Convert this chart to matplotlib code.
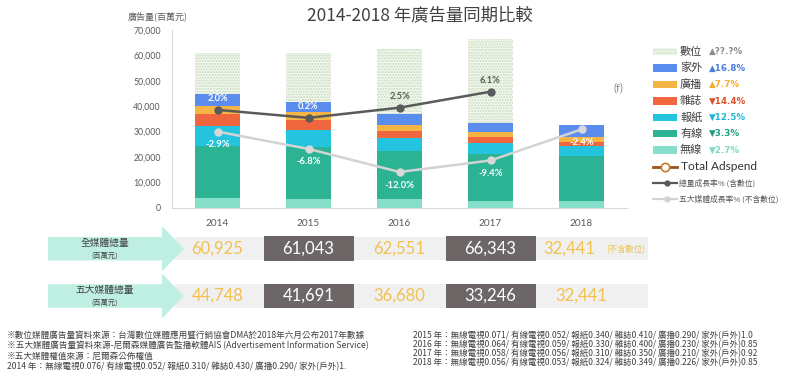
import matplotlib
matplotlib.use('Agg')
import matplotlib.pyplot as plt
from matplotlib.patches import Rectangle, Polygon
from matplotlib.lines import Line2D
import numpy as np

plt.rcParams['font.family'] = ['Noto Sans CJK TC', 'DejaVu Sans']

# ---------------- data ----------------
years = ['2014', '2015', '2016', '2017', '2018']
media_names = ['無線', '有線', '報紙', '雜誌', '廣播', '家外']
wireless = [3630, 3350, 3230, 2700, 2680]
cable = [20740, 20620, 19170, 18400, 17620]
newspaper = [7890, 6470, 4890, 4200, 3950]
magazine = [4740, 4060, 2880, 2380, 1700]
radio = [3020, 3160, 2360, 1970, 1970]
outdoor = [4728, 4031, 4150, 3596, 4521]
all_media_total = [60925, 61043, 62551, 66343, 32441]
five_media_total = [44748, 41691, 36680, 33246, 32441]
growth_all = [2.0, 0.2, 2.5, 6.1]          # 總量成長率% (含數位), 2014-2017
growth_five = [-2.9, -6.8, -12.0, -9.4, -2.4]  # 五大媒體成長率% (不含數位)
legend_names = ['數位', '家外', '廣播', '雜誌', '報紙', '有線', '無線']
legend_change = ['▲??.?%', '▲16.8%', '▲7.7%', '▼14.4%', '▼12.5%', '▼3.3%', '▼2.7%']
notes_left = [
    '※數位媒體廣告量資料來源：台灣數位媒體應用暨行銷協會DMA於2018年六月公布2017年數據',
    '※五大媒體廣告量資料來源-尼爾森媒體廣告監播軟體AIS (Advertisement Information Service)',
    '※五大媒體權值來源：尼爾森公佈權值',
    '2014 年：無線電視0.076/ 有線電視0.052/ 報紙0.310/ 雜誌0.430/ 廣播0.290/ 家外(戶外)1.',
]
notes_right = [
    '2015 年：無線電視0.071/ 有線電視0.052/ 報紙0.340/ 雜誌0.410/ 廣播0.290/ 家外(戶外)1.0',
    '2016 年：無線電視0.064/ 有線電視0.059/ 報紙0.330/ 雜誌0.400/ 廣播0.230/ 家外(戶外)0.85',
    '2017 年：無線電視0.058/ 有線電視0.056/ 報紙0.310/ 雜誌0.350/ 廣播0.210/ 家外(戶外)0.92',
    '2018 年：無線電視0.056/ 有線電視0.053/ 報紙0.324/ 雜誌0.349/ 廣播0.226/ 家外(戶外)0.85',
]

# ---------------- styles ----------------
seg_colors = ['#86e0c9', '#2bb393', '#24c3df', '#f0673f', '#f6b444', '#5b8def']
pct_colors = ['#8c8c8c', '#4a7fdc', '#f0ae30', '#e0502a', '#1fb8d6', '#1f9e7e', '#7fd8c2']
digital_face = '#f4f8f1'
digital_hatch = '#c6dcba'
grey_txt = '#595959'
yellow = '#f2c14e'
dark_box = '#6d6666'
num_font = ['Lato', 'DejaVu Sans']

W, H = 800, 381
fig = plt.figure(figsize=(W / 100, H / 100), dpi=100)
fig.patch.set_facecolor('white')

ax = fig.add_axes([172 / W, (H - 207.5) / H, (627 - 172) / W, (207.5 - 30) / H])
x = np.arange(len(years))
series = [wireless, cable, newspaper, magazine, radio, outdoor]
bottom = np.zeros(len(years))
for vals, col in zip(series, seg_colors):
    ax.bar(x, vals, 0.5, bottom=bottom, color=col, zorder=2, linewidth=0)
    bottom += np.array(vals)
digital = np.array(all_media_total) - np.array(five_media_total)
ax.bar(x, digital, 0.5, bottom=bottom, facecolor=digital_face, edgecolor=digital_hatch,
       hatch='......', linewidth=0, zorder=1)

ax.set_xlim(-0.5, 4.5)
ax.set_ylim(0, 70000)
yt = np.arange(0, 70001, 10000)
ax.set_yticks(yt)
ax.set_yticklabels([f'{v:,}' for v in yt])
ax.set_xticks(x)
ax.set_xticklabels(years)
ax.tick_params(axis='both', length=0, colors=grey_txt, pad=8)
for lab in ax.get_yticklabels():
    lab.set_fontfamily(num_font)
    lab.set_fontsize(6.3)
for lab in ax.get_xticklabels():
    lab.set_fontfamily(num_font)
    lab.set_fontsize(7.2)
for s in ['top', 'right']:
    ax.spines[s].set_visible(False)
for s in ['left', 'bottom']:
    ax.spines[s].set_color('#d9d9d9')
    ax.spines[s].set_linewidth(0.8)

# growth-rate lines on a hidden secondary scale
ax2 = ax.twinx()
ax2.set_ylim(-20, 20)
ax2.axis('off')
ax2.plot(x, growth_five, color='#d3d3d3', lw=1.8, marker='o', ms=5,
         markerfacecolor='#d9d9d9', markeredgecolor='#d9d9d9', zorder=4)
ax2.plot(x[:len(growth_all)], growth_all, color='#5a5a5a', lw=1.8, marker='o', ms=5, zorder=5)
all_lab_colors = ['white', 'white', grey_txt, grey_txt]
for i, v in enumerate(growth_all):
    ax2.annotate(f'{v:.1f}%', (x[i], v), xytext=(0, 11), textcoords='offset pixels',
                 ha='center', va='center', fontsize=6.7, fontweight='bold',
                 color=all_lab_colors[i], family=num_font, zorder=6)
for i, v in enumerate(growth_five):
    ax2.annotate(f'{v:.1f}%', (x[i], v), xytext=(0, -13), textcoords='offset pixels',
                 ha='center', va='center', fontsize=6.8, fontweight='bold',
                 color='white', family=num_font, zorder=6)

# ---------------- overlay (pixel coordinates, y down) ----------------
ov = fig.add_axes([0, 0, 1, 1], zorder=10)
ov.set_xlim(0, W)
ov.set_ylim(H, 0)
ov.axis('off')

ov.text(420, 15.5, '2014-2018 年廣告量同期比較', ha='center', va='center',
        fontsize=12.5, color='#404040')
ov.text(158, 16, '廣告量(百萬元)', ha='center', va='center', fontsize=6.5, color=grey_txt)
ov.text(618, 88, '(f)', ha='center', va='center', fontsize=8, color='#8c8c8c', family=num_font)

# legend
row0, dy = 51.7, 16.4
px0, pw, ph = 653, 24, 7.6
leg_colors = [None] + seg_colors[::-1]
for i, name in enumerate(legend_names):
    y = row0 + i * dy
    if i == 0:
        ov.add_patch(Rectangle((px0, y - ph / 2), pw, ph, facecolor=digital_face,
                               edgecolor=digital_hatch, hatch='......', linewidth=0))
    else:
        ov.add_patch(Rectangle((px0, y - ph / 2), pw, ph, facecolor=leg_colors[i], linewidth=0))
    ov.text(680, y, name, ha='left', va='center', fontsize=8, color='#404040')
    ov.text(709, y, legend_change[i], ha='left', va='center', fontsize=6.3,
            fontweight='bold', color=pct_colors[i], family=['DejaVu Sans'])
y = row0 + 7 * dy
ov.add_line(Line2D([px0, px0 + pw], [y, y], color='#9a5518', lw=2))
ov.plot([px0 + pw / 2], [y], marker='o', ms=6, markerfacecolor='white',
        markeredgecolor='#c77a2a', markeredgewidth=1.2)
ov.text(681, y, 'Total Adspend', ha='left', va='center', fontsize=8.6, color='#333333',
        family=num_font)
line_items = [('總量成長率% (含數位)', '#5a5a5a'), ('五大媒體成長率% (不含數位)', '#d3d3d3')]
for j, (lab, col) in enumerate(line_items):
    y = row0 + (8 + j) * dy
    ov.add_line(Line2D([px0, px0 + pw], [y, y], color=col, lw=1.6))
    ov.plot([px0 + pw * 0.6], [y], marker='o', ms=3.5, color=col)
    ov.text(679, y, lab, ha='left', va='center', fontsize=5.6, color=grey_txt)

# table rows
def xpix(i):
    return ax.transData.transform((i, 0))[0]

rows = [
    ('全媒體總量', all_media_total, 248.7),
    ('五大媒體總量', five_media_total, 296.0),
]
band_h = 23.5
for r, (title, vals, cy) in enumerate(rows):
    top = cy - band_h / 2
    ov.add_patch(Rectangle((175, top), 648 - 175, band_h, facecolor='#f0f0f0', linewidth=0))
    arrow = Polygon([(48, top), (162, top), (162, cy - 22.5), (184, cy),
                     (162, cy + 22.5), (162, top + band_h), (48, top + band_h)],
                    closed=True, facecolor='#bfeee3', linewidth=0)
    ov.add_patch(arrow)
    ov.text(105, cy - 5.8, title, ha='center', va='center', fontsize=7, color='#404040')
    ov.text(105, cy + 6.8, '(百萬元)', ha='center', va='center', fontsize=5.2, color='#404040')
    for i, v in enumerate(vals):
        cx = xpix(i)
        dark = i in (1, 3)
        if dark:
            ov.add_patch(Rectangle((cx - 45, top - 0.5), 90, band_h + 1, facecolor=dark_box,
                                   linewidth=0))
        tx = cx
        if r == 0 and i == len(vals) - 1:
            tx = cx - 12
            ov.text(cx + 44, cy + 1, '(不含數位)', ha='center', va='center',
                    fontsize=6, color=yellow)
        ov.text(tx, cy, f'{v:,}', ha='center', va='center', fontsize=12,
                color='white' if dark else yellow, family=num_font)

# notes
for k, line in enumerate(notes_left):
    ov.text(7, 335 + k * 10.5, line, ha='left', va='center', fontsize=6.2, color='#404040')
for k, line in enumerate(notes_right):
    ov.text(413, 336 + k * 8.8, line, ha='left', va='center', fontsize=6.1, color='#404040')

fig.savefig('out.png', dpi=100)
